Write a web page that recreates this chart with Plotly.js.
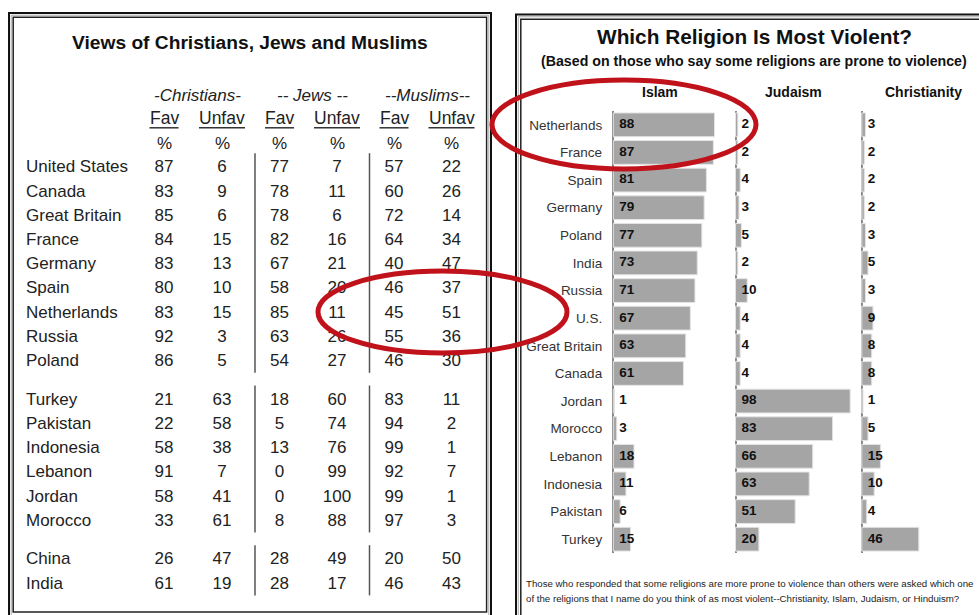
<!DOCTYPE html>
<html>
<head>
<meta charset="utf-8">
<script src="https://cdn.plot.ly/plotly-3.0.1.min.js"></script>
<style>html,body{margin:0;padding:0;background:#fff;}#chart{width:979px;height:615px;}</style>
</head>
<body>
<div id="chart"></div>
<script>
// ---------- Left table data ----------
const tblCountries = ['United States','Canada','Great Britain','France','Germany','Spain','Netherlands','Russia','Poland','Turkey','Pakistan','Indonesia','Lebanon','Jordan','Morocco','China','India'];
const tblGroup = [0,0,0,0,0,0,0,0,0,1,1,1,1,1,1,2,2];
const christiansFav   = [87,83,85,84,83,80,83,92,86,21,22,58,91,58,33,26,61];
const christiansUnfav = [6,9,6,15,13,10,15,3,5,63,58,38,7,41,61,47,19];
const jewsFav         = [77,78,78,82,67,58,85,63,54,18,5,13,0,0,8,28,28];
const jewsUnfav       = [7,11,6,16,21,20,11,26,27,60,74,76,99,100,88,49,17];
const muslimsFav      = [57,60,72,64,40,46,45,55,46,83,94,99,92,99,97,20,46];
const muslimsUnfav    = [22,26,14,34,47,37,51,36,30,11,2,1,7,1,3,50,43];
const groupHeaders = ['-Christians-','-- Jews --','--Muslims--'];
const subHeaders = ['Fav','Unfav','Fav','Unfav','Fav','Unfav'];

// ---------- Right chart data ----------
const violCountries = ['Netherlands','France','Spain','Germany','Poland','India','Russia','U.S.','Great Britain','Canada','Jordan','Morocco','Lebanon','Indonesia','Pakistan','Turkey'];
const islam        = [88,87,81,79,77,73,71,67,63,61,1,3,18,11,6,15];
const judaism      = [2,2,4,3,5,2,10,4,4,4,98,83,66,63,51,20];
const christianity = [3,2,2,2,3,5,3,9,8,8,1,5,15,10,4,46];
const religions = ['Islam','Judaism','Christianity'];

// ---------- layout helpers ----------
const W = 979, H = 615;
const px = x => x / W;
const py = y => 1 - y / H;
const FONT = 'Liberation Sans, Arial, sans-serif';

// table geometry (pixels)
const colX = [164, 222, 279.5, 337, 394, 451.5];
const nameX = 26;
const row0 = 168.2, rowStep = 24.2, groupGap = 14.5;
const rowY = tblCountries.map((c, i) => row0 + i * rowStep + tblGroup[i] * groupGap);
const tblCols = [christiansFav, christiansUnfav, jewsFav, jewsUnfav, muslimsFav, muslimsUnfav];

const traces = [];
// country names
traces.push({
  type: 'scatter', mode: 'text', xaxis: 'x4', yaxis: 'y4',
  x: tblCountries.map(() => nameX), y: rowY, text: tblCountries,
  textposition: 'middle right', cliponaxis: false, hoverinfo: 'skip',
  textfont: {family: FONT, size: 17, color: '#222'}
});
tblCols.forEach((col, j) => {
  traces.push({
    type: 'scatter', mode: 'text', xaxis: 'x4', yaxis: 'y4',
    x: col.map(() => colX[j]), y: rowY, text: col.map(String),
    textposition: 'middle center', cliponaxis: false, hoverinfo: 'skip',
    textfont: {family: FONT, size: 17, color: '#222'}
  });
});

// bar chart geometry
const axes = [
  {zero: 613.3, scale: 1.15, max: 99},
  {zero: 735.5, scale: 1.17, max: 99},
  {zero: 861.8, scale: 1.24, max: 90}
];
const series = [islam, judaism, christianity];
const xNames = ['x', 'x2', 'x3'];
series.forEach((vals, k) => {
  traces.push({
    type: 'bar', orientation: 'h', xaxis: xNames[k], yaxis: 'y',
    y: violCountries, x: vals, hoverinfo: 'skip',
    marker: {color: '#a5a5a5', line: {color: '#e4e4e4', width: 1}}
  });
  traces.push({
    type: 'scatter', mode: 'markers+text', xaxis: xNames[k], yaxis: 'y',
    y: violCountries, x: vals.map(() => 0), text: vals.map(String),
    marker: {size: 8, opacity: 0},
    textposition: 'middle right', cliponaxis: false, hoverinfo: 'skip',
    textfont: {family: FONT, size: 13.5, color: '#111', weight: 'bold'}
  });
});

const layout = {
  width: W, height: H,
  margin: {l: 0, r: 0, t: 0, b: 0},
  paper_bgcolor: '#ffffff', plot_bgcolor: 'rgba(0,0,0,0)',
  showlegend: false, bargap: 0.14,
  font: {family: FONT, color: '#222'},
  yaxis: {
    type: 'category', categoryarray: violCountries, categoryorder: 'array',
    range: [violCountries.length - 0.5, -0.5],
    domain: [py(553), py(111)], anchor: 'x',
    showgrid: false, zeroline: false, showline: false, ticks: '',
    ticklabelstandoff: 9,
    tickfont: {family: FONT, size: 13.5, color: '#333'}, fixedrange: true
  },
  xaxis4: {domain: [0, 1], range: [0, W], visible: false, anchor: 'y4', fixedrange: true},
  yaxis4: {domain: [0, 1], range: [H, 0], visible: false, anchor: 'x4', fixedrange: true},
  annotations: [], shapes: []
};
axes.forEach((a, k) => {
  const key = k === 0 ? 'xaxis' : 'xaxis' + (k + 1);
  layout[key] = {
    domain: [px(a.zero - a.scale), px(a.zero + a.scale * a.max)],
    range: [-1, a.max], anchor: 'y',
    showgrid: false, showticklabels: false, ticks: '', showline: false,
    zeroline: true, zerolinecolor: '#8a8a8a', zerolinewidth: 2, fixedrange: true
  };
});

const ann = (text, x, y, size, extra) => Object.assign({
  text: text, x: x, y: y, xref: 'x4', yref: 'y4', showarrow: false,
  xanchor: 'center', yanchor: 'middle',
  font: {family: FONT, size: size, color: '#111'}
}, extra || {});

// left title & headers
layout.annotations.push(ann('<b>Views of Christians, Jews and Muslims</b>', 250, 42, 19.2));
const groupCenters = [197, 312.5, 427.5];
groupHeaders.forEach((g, i) => layout.annotations.push(ann('<i>' + g + '</i>', groupCenters[i], 95, 17, {font: {family: FONT, size: 17, color: '#222'}})));
subHeaders.forEach((s, j) => {
  layout.annotations.push(ann(s, colX[j], 117.5, 17.5, {font: {family: FONT, size: 17.5, color: '#222'}}));
  layout.annotations.push(ann('%', colX[j], 143, 17, {font: {family: FONT, size: 17, color: '#222'}}));
  const hw = s === 'Fav' ? 14.5 : 23;
  layout.shapes.push({type: 'line', xref: 'x4', yref: 'y4', x0: colX[j] - hw, x1: colX[j] + hw, y0: 127.8, y1: 127.8, line: {color: '#333', width: 1.5}});
});
// separators in table
[0, 1, 2].forEach(g => {
  const ys = rowY.filter((y, i) => tblGroup[i] === g);
  [255, 369.5].forEach(x => layout.shapes.push({
    type: 'line', xref: 'x4', yref: 'y4', x0: x, x1: x,
    y0: ys[0] - 15, y1: ys[ys.length - 1] + 11,
    line: {color: '#555', width: 1.5}
  }));
});

// right title & headers
const pAnn = (text, x, y, size, extra) => ann(text, px(x), py(y), size, Object.assign({xref: 'paper', yref: 'paper'}, extra || {}));
layout.annotations.push(pAnn('<b>Which Religion Is Most Violent?</b>', 754, 36.5, 20.8));
layout.annotations.push(pAnn('<b>(Based on those who say some religions are prone to violence)</b>', 754, 61.5, 14.2));
const headCenters = [660, 793, 923];
religions.forEach((r, i) => layout.annotations.push(pAnn('<b>' + r + '</b>', headCenters[i], 92, 14)));
layout.annotations.push(pAnn('Those who responded that some religions are more prone to violence than others were asked which one', 524, 583, 9.7, {xanchor: 'left', font: {family: FONT, size: 9.7, color: '#222'}}));
layout.annotations.push(pAnn('of the religions that I name do you think of as most violent--Christianity, Islam, Judaism, or Hinduism?', 524, 598, 9.7, {xanchor: 'left', font: {family: FONT, size: 9.7, color: '#222'}}));

// panel borders
const rect = (x0, y0, x1, y1, color, w) => ({type: 'rect', xref: 'paper', yref: 'paper', x0: px(x0), x1: px(x1), y0: py(y0), y1: py(y1), line: {color: color, width: w}, fillcolor: 'rgba(0,0,0,0)', layer: 'below'});
layout.shapes.push(rect(9, 13, 491, 660, '#111', 2));
layout.shapes.push(rect(11.2, 15.2, 488.8, 640, '#aaa', 1));
layout.shapes.push(rect(13.2, 17.2, 486.6, 612, '#222', 1.5));
layout.shapes.push(rect(516, 14.5, 1100, 700, '#111', 2));
layout.shapes.push(rect(518.3, 16.8, 1100, 700, '#aaa', 1));
layout.shapes.push(rect(520.8, 19.3, 1100, 700, '#222', 1.5));

// red highlight ellipses
const ell = (x0, y0, x1, y1) => ({type: 'circle', xref: 'paper', yref: 'paper', x0: px(x0), x1: px(x1), y0: py(y0), y1: py(y1), line: {color: '#c0121b', width: 5}, layer: 'above'});
layout.shapes.push(ell(318, 271, 567, 353));
layout.shapes.push(ell(492, 80, 756, 169));

Plotly.newPlot('chart', traces, layout, {staticPlot: true, displayModeBar: false});
</script>
</body>
</html>
